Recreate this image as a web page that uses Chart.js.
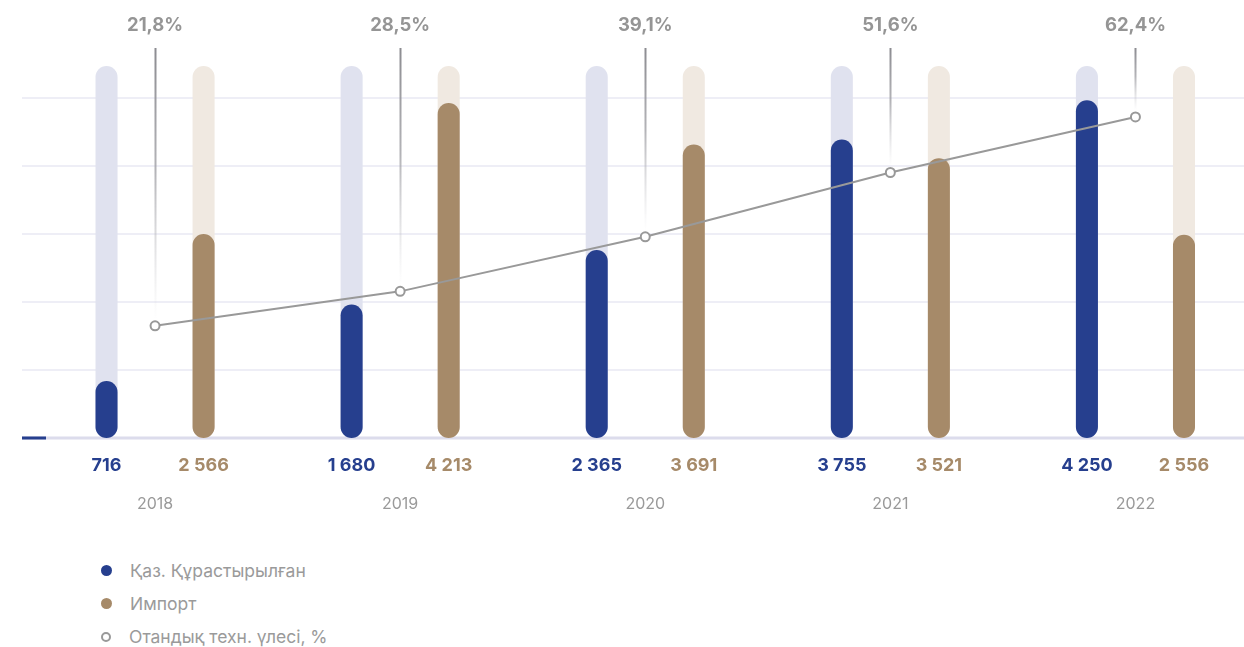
<!DOCTYPE html>
<html>
<head>
<meta charset="utf-8">
<script src="https://cdn.jsdelivr.net/npm/chart.js@4.4.1/dist/chart.umd.min.js"></script>
<style>
  html, body { margin: 0; padding: 0; background: #fff; overflow: hidden; width: 1244px; height: 647px; }
  #wrap { position: absolute; left: 0; top: 0; width: 1258px; height: 540px; }
  #c { display: block; }
  #legend { position: absolute; left: 101px; top: 554px; font-family: Inter, sans-serif; font-size: 17.5px; color: #9a9a9a; }
  .item { height: 33px; display: flex; align-items: center; }
  .dot { width: 11px; height: 11px; border-radius: 50%; margin-right: 18px; box-sizing: border-box; }
</style>
</head>
<body>
<div id="wrap"><canvas id="c" width="1258" height="540"></canvas></div>
<div id="legend"></div>
<script>
// ---- data ----
const years = ['2018', '2019', '2020', '2021', '2022'];
const localAssembled = [716, 1680, 2365, 3755, 4250];
const imported = [2566, 4213, 3691, 3521, 2556];
const localShare = [21.8, 28.5, 39.1, 51.6, 62.4];
const seriesNames = ['Қаз. Құрастырылған', 'Импорт', 'Отандық техн. үлесі, %'];

const valueMax = 4680;
const shareMax = 72.3;
const gridStep = 855;

const BLUE = '#263f8e', BLUE_BG = '#e0e2ef';
const BROWN = '#a68a69', BROWN_BG = '#f0e9e1';
const GREY = '#999999';
const FONT = 'Inter, sans-serif';

const fmtNum = v => String(v).replace(/\B(?=(\d{3})+(?!\d))/g, ' ');
const fmtPct = v => v.toFixed(1).replace('.', ',') + '%';

const bgBlue = years.map(() => valueMax);
const bgBrown = years.map(() => valueMax);

const barCommon = {
  categoryPercentage: 0.792,
  barPercentage: 0.227,
  borderRadius: 11,
  borderSkipped: false,
  yAxisID: 'y'
};

const decorPlugin = {
  id: 'decor',
  beforeDatasetsDraw(chart) {
    const ctx = chart.ctx;
    const y = chart.scales.y;
    const right = chart.width;
    ctx.save();
    y.ticks.forEach(t => {
      if (t.value === 0) return;
      const py = Math.round(y.getPixelForValue(t.value));
      ctx.strokeStyle = '#eeeef6';
      ctx.lineWidth = 2;
      ctx.beginPath(); ctx.moveTo(22, py); ctx.lineTo(right, py); ctx.stroke();
    });
    const py0 = y.getPixelForValue(0);
    ctx.strokeStyle = '#dcdcec';
    ctx.lineWidth = 3;
    ctx.beginPath(); ctx.moveTo(22, py0); ctx.lineTo(right, py0); ctx.stroke();
    ctx.strokeStyle = BLUE;
    ctx.beginPath(); ctx.moveTo(22, py0); ctx.lineTo(46, py0); ctx.stroke();

    // connectors for share labels
    const lineMeta = chart.getDatasetMeta(4);
    lineMeta.data.forEach((pt) => {
      const x = Math.round(pt.x) + 0.5;
      const top = 48, bot = pt.y - 6;
      const g = ctx.createLinearGradient(0, top, 0, bot);
      g.addColorStop(0, 'rgba(140,140,145,1)');
      g.addColorStop(0.45, 'rgba(160,160,165,0.8)');
      g.addColorStop(1, 'rgba(200,200,205,0)');
      ctx.strokeStyle = g;
      ctx.lineWidth = 2;
      ctx.beginPath(); ctx.moveTo(x, top); ctx.lineTo(x, bot); ctx.stroke();
    });
    ctx.restore();
  },
  afterDatasetsDraw(chart) {
    const ctx = chart.ctx;
    ctx.save();
    ctx.textAlign = 'center';
    ctx.textBaseline = 'middle';
    ctx.font = 'bold 18px ' + FONT;
    const blueMeta = chart.getDatasetMeta(0);
    const brownMeta = chart.getDatasetMeta(1);
    blueMeta.data.forEach((b, i) => {
      ctx.fillStyle = BLUE;
      ctx.fillText(fmtNum(localAssembled[i]), b.x, 466);
    });
    brownMeta.data.forEach((b, i) => {
      ctx.fillStyle = BROWN;
      ctx.fillText(fmtNum(imported[i]), b.x, 466);
    });
    const lineMeta = chart.getDatasetMeta(4);
    ctx.fillStyle = '#959595';
    ctx.font = 'bold 18.5px ' + FONT;
    lineMeta.data.forEach((pt, i) => {
      ctx.fillText(fmtPct(localShare[i]), pt.x, 25);
    });
    ctx.restore();
  }
};

new Chart(document.getElementById('c'), {
  data: {
    labels: years,
    datasets: [
      Object.assign({ type: 'bar', label: seriesNames[0], data: localAssembled, backgroundColor: BLUE, stack: 'a', order: 2 }, barCommon),
      Object.assign({ type: 'bar', label: seriesNames[1], data: imported, backgroundColor: BROWN, stack: 'b', order: 2 }, barCommon),
      Object.assign({ type: 'bar', label: 'bgA', data: bgBlue, backgroundColor: BLUE_BG, stack: 'a', order: 3 }, barCommon),
      Object.assign({ type: 'bar', label: 'bgB', data: bgBrown, backgroundColor: BROWN_BG, stack: 'b', order: 3 }, barCommon),
      {
        type: 'line', label: seriesNames[2], data: localShare, yAxisID: 'y1', order: 0,
        borderColor: GREY, borderWidth: 2, tension: 0,
        pointRadius: 4.5, pointBackgroundColor: '#fff', pointBorderColor: GREY, pointBorderWidth: 2
      }
    ]
  },
  options: {
    responsive: false,
    animation: false,
    layout: { autoPadding: false, padding: { left: 32.5, right: 0, top: 66, bottom: 0 } },
    plugins: { legend: { display: false }, tooltip: { enabled: false } },
    scales: {
      x: {
        grid: { display: false, drawTicks: false },
        border: { display: false },
        ticks: { padding: 57, color: '#9a9a9a', font: { family: FONT, size: 16 } },
        afterFit(s) { s.height = 102; }
      },
      y: {
        display: false, stacked: false, min: 0, max: valueMax,
        afterBuildTicks(s) {
          const t = [];
          for (let v = 0; v <= valueMax; v += gridStep) t.push({ value: v });
          s.ticks = t;
        }
      },
      y1: { display: false, min: 0, max: shareMax }
    }
  },
  plugins: [decorPlugin]
});

// HTML legend
const legend = document.getElementById('legend');
[[seriesNames[0], BLUE, 'fill'], [seriesNames[1], BROWN, 'fill'], [seriesNames[2], GREY, 'ring']].forEach(([name, col, kind]) => {
  const it = document.createElement('div'); it.className = 'item';
  const d = document.createElement('span'); d.className = 'dot';
  if (kind === 'fill') d.style.background = col; else { d.style.border = '2.5px solid ' + col; d.style.width = '10px'; d.style.height = '10px'; }
  const t = document.createElement('span'); t.textContent = name;
  it.appendChild(d); it.appendChild(t); legend.appendChild(it);
});
</script>
</body>
</html>
